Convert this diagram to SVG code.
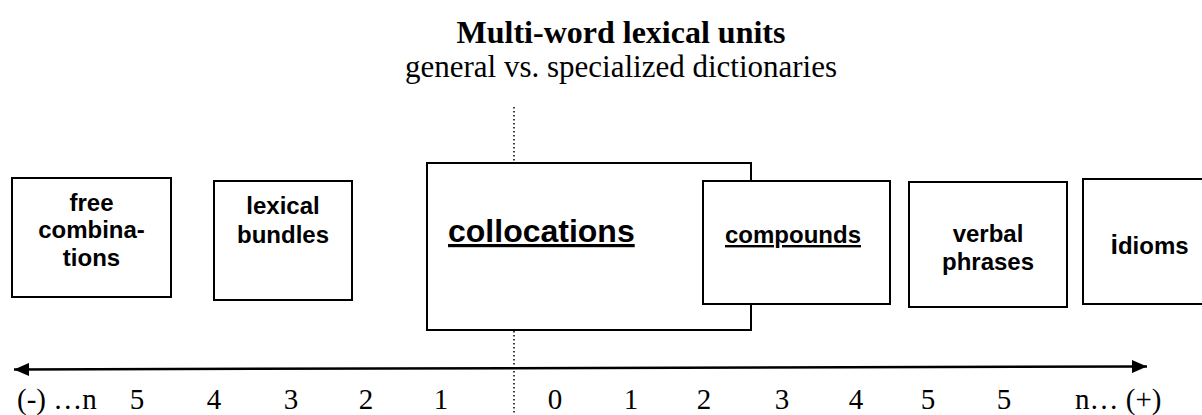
<svg xmlns="http://www.w3.org/2000/svg" width="1202" height="415" viewBox="0 0 1202 415">
<style>
.box{fill:#fff;stroke:#000;stroke-width:2}
.lbl{font-family:"Liberation Sans",Arial,sans-serif;font-weight:bold;font-size:24px;fill:#000;text-anchor:middle}
.num{font-family:"Liberation Serif","Times New Roman",serif;font-size:29px;fill:#000;text-anchor:middle}
.dot{stroke:#000;stroke-width:1.5;stroke-dasharray:1.5 2.5;fill:none}
</style>
<defs>
<marker id="ah" viewBox="0 0 15 13" refX="15" refY="6.5" markerWidth="15" markerHeight="13" markerUnits="userSpaceOnUse" orient="auto-start-reverse">
<path d="M0,0 L15,6.5 L0,13 Z" fill="#000"/>
</marker>
</defs>
<rect width="1202" height="415" fill="#fff"/>
<g id="title">
<text x="621" y="43" text-anchor="middle" font-family="Liberation Serif,Times New Roman,serif" font-weight="bold" font-size="32">Multi-word lexical units</text>
<text x="621" y="77" text-anchor="middle" font-family="Liberation Serif,Times New Roman,serif" font-size="31">general vs. specialized dictionaries</text>
</g>
<g id="connectors">
<line class="dot" x1="514" y1="107" x2="514" y2="163"/>
<line class="dot" x1="514" y1="331" x2="514" y2="415"/>
<line x1="14" y1="369.5" x2="1147" y2="366.5" stroke="#000" stroke-width="2.5" marker-start="url(#ah)" marker-end="url(#ah)"/>
</g>
<g id="free-combinations">
<rect class="box" x="12" y="178" width="159" height="119"/>
<text class="lbl" x="91.5" y="211">free</text>
<text class="lbl" x="91.5" y="238">combina-</text>
<text class="lbl" x="91.5" y="266">tions</text>
</g>
<g id="lexical-bundles">
<rect class="box" x="214" y="181" width="138" height="119"/>
<text class="lbl" x="283" y="214">lexical</text>
<text class="lbl" x="283" y="243">bundles</text>
</g>
<g id="collocations">
<rect class="box" x="427" y="163" width="324" height="167"/>
<text class="lbl" x="448" y="242" text-decoration="underline" style="text-anchor:start;font-size:32px">collocations</text>
</g>
<g id="compounds">
<rect class="box" x="703" y="181" width="187" height="123"/>
<text class="lbl" x="793" y="243" text-decoration="underline">compounds</text>
</g>
<g id="verbal-phrases">
<rect class="box" x="909" y="182" width="158" height="125"/>
<text class="lbl" x="988" y="242">verbal</text>
<text class="lbl" x="988" y="270">phrases</text>
</g>
<g id="idioms">
<rect class="box" x="1083" y="179" width="130" height="125"/>
<text class="lbl" x="1149.5" y="254"><tspan font-size="27">i</tspan>dioms</text>
</g>
<g id="scale">
<text class="num" x="17" y="409" style="text-anchor:start">(-) …n</text>
<text class="num" x="137" y="409">5</text>
<text class="num" x="214" y="409">4</text>
<text class="num" x="291" y="409">3</text>
<text class="num" x="366" y="409">2</text>
<text class="num" x="441" y="409">1</text>
<text class="num" x="555" y="409">0</text>
<text class="num" x="631" y="409">1</text>
<text class="num" x="704" y="409">2</text>
<text class="num" x="782" y="409">3</text>
<text class="num" x="856" y="409">4</text>
<text class="num" x="928" y="409">5</text>
<text class="num" x="1004" y="409">5</text>
<text class="num" x="1075" y="409" style="text-anchor:start">n… (+)</text>
</g>
</svg>
